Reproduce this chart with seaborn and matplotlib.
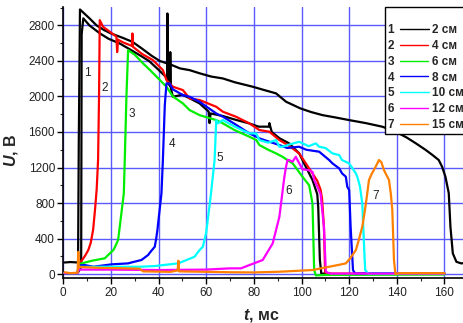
import matplotlib
matplotlib.use("Agg")
import matplotlib.pyplot as plt
from matplotlib.lines import Line2D
from matplotlib.ticker import MultipleLocator
import seaborn as sns
import pandas as pd

# ---------------- data ----------------
t1 = [0.5, 3, 6.2, 6.5, 7, 9, 11, 14, 17, 20, 25, 29, 33, 37, 40.5, 45, 49, 53, 57, 62, 67, 72,
      79.5, 84, 89.3, 93.5, 99.5, 104, 108.8, 114, 120, 127, 134, 139.5, 144, 148, 152, 155,
      157.6, 159, 160.4, 161.8, 162.5, 163.5, 165, 167, 169]
u1 = [130, 135, 130, 1500, 2980, 2930, 2880, 2800, 2750, 2710, 2660, 2616, 2540, 2460, 2400, 2360,
      2316, 2297, 2263, 2225, 2203, 2160, 2110, 2075, 2035, 1941, 1866, 1825, 1790, 1765, 1734,
      1700, 1659, 1603, 1540, 1472, 1400, 1340, 1284, 1208, 1096, 910, 533, 233, 138, 120, 125]

t1b = [0.5, 6, 7.5, 7.7, 8.4, 11, 15.4, 19, 23.7, 28, 32, 36, 40, 43, 43.6, 43.7, 43.9, 44.8, 44.9,
       45.1, 46, 50, 53, 57.2, 61, 61.4, 61.8, 67, 72, 78, 82, 86.3, 86.5, 87.5, 90.7, 94.8, 99,
       101.8, 104.6, 106.6, 107, 107.7, 108.3, 112]
u1b = [10, 10, 80, 2700, 2880, 2800, 2710, 2650, 2597, 2530, 2466, 2400, 2300, 2222, 2180, 2935,
       2150, 2120, 2500, 2100, 1997, 2020, 1980, 1922, 1830, 1700, 1809, 1780, 1740, 1697, 1660,
       1660, 1700, 1600, 1530, 1472, 1359, 1208, 1059, 900, 758, 158, 5, 5]

t2 = [0.5, 6, 6.5, 7.7, 9, 10.5, 11.5, 12.5, 13.3, 14, 14.6, 15.0, 15.3, 16.7, 19, 22.3, 22.6,
      23, 25, 28.8, 29, 29.2, 33, 37.6, 41.8, 43.3, 46, 50.2, 53, 57.2, 64.2, 67, 72.5, 78.1,
      82.3, 86.5, 90.7, 95, 99, 101.8, 104.6, 106.6, 108, 108.6, 109.4, 109.9, 111, 160]
u2 = [10, 10, 120, 150, 200, 270, 350, 495, 720, 950, 1284, 2000, 2860, 2785, 2740, 2673, 2500,
      2640, 2610, 2570, 2710, 2560, 2480, 2410, 2297, 2185, 2110, 2072, 1978, 1960, 1884, 1828,
      1772, 1697, 1622, 1603, 1509, 1440, 1359, 1246, 1134, 1050, 950, 850, 533, 20, 5, 5]

t3 = [0.5, 6, 6.5, 7.7, 12, 17.4, 21, 21.6, 23, 23.7, 25.4, 25.8, 26.5, 27.2, 30, 33.5, 36.3, 40,
      43.3, 46, 50.2, 53, 57.2, 64.2, 67, 72, 78.1, 81, 82.3, 86, 89.3, 92, 96.3, 100.4, 103.2,
      104.6, 105.3, 106, 110, 160]
u3 = [10, 10, 110, 120, 150, 177, 270, 300, 383, 533, 909, 1284, 2000, 2522, 2470, 2372, 2300,
      2200, 2110, 2000, 1922, 1847, 1790, 1734, 1697, 1620, 1547, 1509, 1453, 1400, 1359, 1321,
      1246, 1096, 1000, 796, 45, -15, -10, -5]

t4 = [0.5, 6, 6.5, 9, 12.6, 20.2, 27.2, 29.3, 32.8, 35.6, 36.3, 38.4, 39, 39.5, 41.2, 41.8, 42.6,
      43.3, 44.6, 46, 50.2, 53, 57.2, 64.2, 67, 72, 78.1, 81, 82.3, 86.5, 90.7, 94, 99, 102,
      107.4, 111.6, 113, 115.8, 117, 118.6, 119.2, 120, 120.6, 121.6, 122.5, 130, 160]
u4 = [10, 10, 95, 101, 82, 109, 120, 135, 158, 214, 240, 308, 400, 495, 909, 1284, 1900, 2147,
      2147, 2080, 2016, 1997, 1940, 1809, 1772, 1690, 1584, 1547, 1528, 1490, 1453, 1420, 1434,
      1400, 1378, 1284, 1246, 1190, 1134, 1096, 983, 946, 533, 45, 5, 10, 10]

t5 = [0.5, 6, 6.5, 17.4, 32, 38.4, 48.1, 50, 55.1, 57.2, 58.6, 60, 62, 63.5, 64, 64.2, 64.8, 67,
      72, 78.1, 81, 82.3, 86, 89.3, 90.7, 92, 95, 99, 103, 106, 107.4, 110, 113, 115.8, 117,
      120, 122.8, 123.4, 124.5, 125.5, 126.2, 126.7, 128, 160]
u5 = [10, 10, 80, 82, 82, 90, 120, 139, 195, 270, 308, 470, 909, 1284, 1600, 1734, 1697, 1734,
      1660, 1584, 1584, 1509, 1480, 1509, 1434, 1434, 1460, 1490, 1440, 1472, 1434, 1420, 1359,
      1340, 1284, 1246, 1134, 1096, 990, 796, 345, 45, 5, 5]

t6 = [0.5, 6, 6.5, 20, 40, 60, 69.8, 74.6, 78, 83.7, 87.9, 90.7, 92.8, 93.5, 94.1, 94.8, 96.2,
      97.6, 98.3, 100.4, 103, 104.6, 105.3, 106.7, 108, 109.4, 110.2, 112, 160]
u6 = [10, 10, 50, 50, 45, 50, 64, 64, 100, 158, 345, 645, 1096, 1208, 1284, 1284, 1265, 1321,
      1284, 1180, 1170, 1150, 1059, 983, 900, 533, 26, 5, 5]

t7 = [0.5, 3, 6, 6.3, 6.5, 7, 15, 25, 32, 33.5, 45, 48, 48.3, 48.6, 60, 70, 80, 90.7, 104.6,
      111.6, 115, 118.6, 120.5, 122.8, 124, 125.5, 126.5, 127.6, 128.3, 129.5, 131.1, 132.5,
      133.5, 134.6, 136.7, 137.5, 138.1, 138.8, 139.4, 141, 150, 160]
u7 = [20, 10, 15, 250, 70, 80, 70, 65, 60, 30, 25, 40, 150, 30, 25, 20, 18, 26, 45, 82, 100, 120,
      180, 270, 380, 533, 700, 909, 1059, 1130, 1208, 1284, 1260, 1171, 1059, 900, 721, 158, 0,
      10, 10, 10]

numbers = ["1", "2", "3", "4", "5", "6", "7"]
distances = ["2 см", "4 см", "6 см", "8 см", "10 см", "12 см", "15 см"]
colors = ["#000000", "#ff0000", "#00ee00", "#0000ff", "#00ffff", "#ff00ff", "#ff8000"]
num_x = [10.1, 17.2, 28.7, 45.5, 65.6, 94.6, 131.1]
num_y = [2268, 2092, 1800, 1464, 1303, 935, 882]

series = [("1", t1, u1), ("1b", t1b, u1b), ("2", t2, u2), ("3", t3, u3), ("4", t4, u4),
          ("5", t5, u5), ("6", t6, u6), ("7", t7, u7)]
rows = []
for name, tt, uu in series:
    for a, b in zip(tt, uu):
        rows.append({"series": name, "t": a, "U": b})
df = pd.DataFrame(rows)
palette = {"1": colors[0], "1b": colors[0], "2": colors[1], "3": colors[2], "4": colors[3],
           "5": colors[4], "6": colors[5], "7": colors[6]}

# ---------------- style ----------------
sns.set_theme(style="ticks")
plt.rcParams["font.family"] = ["Liberation Sans", "DejaVu Sans"]
plt.rcParams["mathtext.fontset"] = "custom"
plt.rcParams["mathtext.it"] = "Liberation Sans:italic:bold"
plt.rcParams["mathtext.rm"] = "Liberation Sans:bold"

fig = plt.figure(figsize=(4.64, 3.23), dpi=100)
ax = fig.add_axes([63.3 / 464, 44.7 / 323, 405 / 464, 271.3 / 323])

sns.lineplot(data=df, x="t", y="U", hue="series", palette=palette, estimator=None,
             sort=False, legend=False, linewidth=1.6, ax=ax, zorder=3)

ax.set_xlim(0, 170)
ax.set_ylim(-48, 3008)
ax.xaxis.set_major_locator(MultipleLocator(20))
ax.xaxis.set_minor_locator(MultipleLocator(10))
ax.yaxis.set_major_locator(MultipleLocator(400))
ax.yaxis.set_minor_locator(MultipleLocator(200))
ax.set_xticks([0, 20, 40, 60, 80, 100, 120, 140, 160])
ax.tick_params(which="major", direction="out", length=4, width=1, labelsize=8.5,
               bottom=True, left=True, colors="#000000", labelcolor="#222222", pad=2)
ax.tick_params(which="minor", direction="out", length=2, width=0.8, bottom=True, left=True)
ax.grid(True, which="major", color="#5a5aff", linewidth=1.0)
ax.set_axisbelow(True)
for s in ["top", "right"]:
    ax.spines[s].set_visible(False)
for s in ["left", "bottom"]:
    ax.spines[s].set_color("#000000")
    ax.spines[s].set_linewidth(1.2)

ax.set_xlabel(r"$t$, мс", fontsize=11.5, fontweight="bold")
ax.set_ylabel(r"$U$, В", fontsize=11.5, fontweight="bold")
ax.xaxis.set_label_coords(0.488, -0.105)
ax.yaxis.set_label_coords(-0.107, 0.471)

for n, x, y in zip(numbers, num_x, num_y):
    ax.text(x, y, n, fontsize=8.5, ha="center", va="center", color="#222222", zorder=4)

handles = [Line2D([], [], color=c, lw=1.0) for c in colors]
handles += [Line2D([], [], color="none") for _ in colors]
labels = numbers + distances
leg = ax.legend(handles, labels, ncol=2, markerfirst=False, loc="upper left",
                bbox_to_anchor=((384.7 - 63.3) / 405, 1.0), frameon=True, fancybox=False,
                edgecolor="#000000", framealpha=1, title=" ", title_fontsize=7,
                prop={"weight": "bold", "size": 8.5}, handlelength=2.4, handletextpad=0.5,
                columnspacing=0.3, labelspacing=0.33, borderpad=0.25, borderaxespad=0)
for col in leg._legend_handle_box.get_children():
    col.align = "left"
leg.get_frame().set_linewidth(1.0)
leg.set_zorder(5)

fig.savefig("out.png", dpi=100)
